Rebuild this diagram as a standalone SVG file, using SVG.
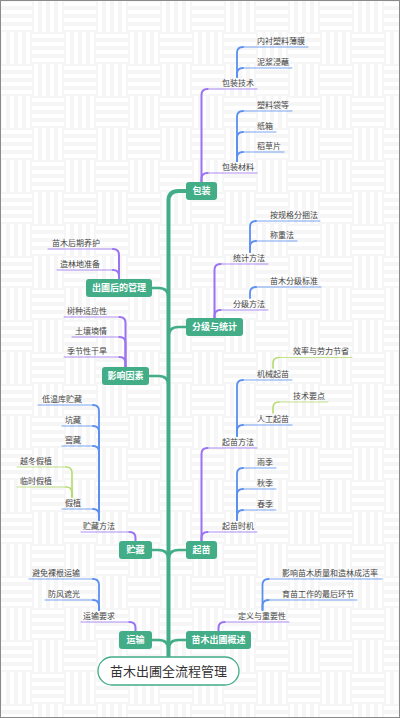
<svg xmlns="http://www.w3.org/2000/svg" width="400" height="718" viewBox="0 0 400 718">
<defs>
<pattern id="bg" width="64" height="64" patternUnits="userSpaceOnUse">
<rect width="64" height="64" fill="#f6f6f6"/>
<g fill="#ffffff">
<rect x="0" y="2" width="32" height="4"/><rect x="0" y="10" width="32" height="4"/><rect x="0" y="18" width="32" height="4"/><rect x="0" y="26" width="32" height="4"/>
<rect x="34" y="0" width="4" height="32"/><rect x="42" y="0" width="4" height="32"/><rect x="50" y="0" width="4" height="32"/><rect x="58" y="0" width="4" height="32"/>
<rect x="2" y="32" width="4" height="32"/><rect x="10" y="32" width="4" height="32"/><rect x="18" y="32" width="4" height="32"/><rect x="26" y="32" width="4" height="32"/>
<rect x="32" y="34" width="32" height="4"/><rect x="32" y="42" width="32" height="4"/><rect x="32" y="50" width="32" height="4"/><rect x="32" y="58" width="32" height="4"/>
</g>
</pattern>
<style>
path{fill:none;stroke-linecap:round}
.trunk{stroke:#42ad87;stroke-width:4}
.br{stroke:#42ad87;stroke-width:2.6}
.l2{stroke:#9a72f2;stroke-width:2}
.l3{stroke:#5b8ff0;stroke-width:1.8}
.l4{stroke:#b5dc6e;stroke-width:1.6}
.u{stroke-width:1;opacity:0.8}
.node rect{fill:#42ad87}
.node text{fill:#ffffff;font-family:"Noto Sans CJK SC","Noto Sans",sans-serif;font-size:9px;font-weight:bold;text-anchor:middle}
.lab{fill:#444444;font-family:"Noto Sans CJK SC","Noto Sans",sans-serif;font-size:8px}
.r{text-anchor:end}
</style>
</defs>
<rect width="400" height="718" fill="url(#bg)"/>
<rect x="0.5" y="0.5" width="399" height="717" fill="none" stroke="#8a8a8a" stroke-width="1"/>

<g id="connectors">
<path class="trunk" d="M168.5,657 V201 Q168.5,191 178.5,191 H186"/>
<path class="br" d="M186,327 H178.5 Q168.5,327 168.5,337"/>
<path class="br" d="M186,550 H178.5 Q168.5,550 168.5,560"/>
<path class="br" d="M186,640 H178.5 Q168.5,640 168.5,650"/>
<path class="br" d="M152,288 H158.5 Q168.5,288 168.5,298"/>
<path class="br" d="M149,376 H158.5 Q168.5,376 168.5,386"/>
<path class="br" d="M152,550 H158.5 Q168.5,550 168.5,560"/>
<path class="br" d="M152,640 H158.5 Q168.5,640 168.5,650"/>

<path class="l2" d="M201.5,182 V95 Q201.5,89 207.5,89"/><path class="l2 u" d="M207.5,89 H257"/>
<path class="l2" d="M201.5,182 V179 Q201.5,173 207.5,173"/><path class="l2 u" d="M207.5,173 H257"/>
<path class="l2" d="M214.5,318 V270 Q214.5,264 220.5,264"/><path class="l2 u" d="M220.5,264 H268"/>
<path class="l2" d="M214.5,318 V316 Q214.5,310 220.5,310"/><path class="l2 u" d="M220.5,310 H268"/>
<path class="l2" d="M201.5,541 V454 Q201.5,448 207.5,448"/><path class="l2 u" d="M207.5,448 H257"/>
<path class="l2" d="M201.5,541 V538 Q201.5,532 207.5,532"/><path class="l2 u" d="M207.5,532 H257"/>
<path class="l2" d="M218.5,631 V628 Q218.5,622 224.5,622"/><path class="l2 u" d="M224.5,622 H289"/>
<path class="l2" d="M119,279 V255 Q119,249 113,249"/><path class="l2 u" d="M113,249 H48"/>
<path class="l2" d="M119,279 V276 Q119,270 113,270"/><path class="l2 u" d="M113,270 H57"/>
<path class="l2" d="M125.5,367 V323 Q125.5,317 119.5,317"/><path class="l2 u" d="M119.5,317 H64"/>
<path class="l2" d="M125.5,367 V343 Q125.5,337 119.5,337"/><path class="l2 u" d="M119.5,337 H72"/>
<path class="l2" d="M125.5,367 V363 Q125.5,357 119.5,357"/><path class="l2 u" d="M119.5,357 H64"/>
<path class="l2" d="M135.5,541 V538 Q135.5,532 129.5,532"/><path class="l2 u" d="M129.5,532 H81"/>
<path class="l2" d="M135.5,631 V628 Q135.5,622 129.5,622"/><path class="l2 u" d="M129.5,622 H81"/>

<path class="l3" d="M237,77 V53 Q237,47 243,47"/><path class="l3 u" d="M243,47 H308"/>
<path class="l3" d="M237,77 V74 Q237,68 243,68"/><path class="l3 u" d="M243,68 H292"/>
<path class="l3" d="M237,161 V117 Q237,111 243,111"/><path class="l3 u" d="M243,111 H292"/>
<path class="l3" d="M237,161 V138 Q237,132 243,132"/><path class="l3 u" d="M243,132 H276"/>
<path class="l3" d="M237,161 V158 Q237,152 243,152"/><path class="l3 u" d="M243,152 H284"/>
<path class="l3" d="M250,252 V227 Q250,221 256,221"/><path class="l3 u" d="M256,221 H320"/>
<path class="l3" d="M250,252 V247 Q250,241 256,241"/><path class="l3 u" d="M256,241 H297"/>
<path class="l3" d="M250,298 V293 Q250,287 256,287"/><path class="l3 u" d="M256,287 H321"/>
<path class="l3" d="M237,436 V386 Q237,380 243,380"/><path class="l3 u" d="M243,380 H292"/>
<path class="l3" d="M237,436 V431 Q237,425 243,425"/><path class="l3 u" d="M243,425 H292"/>
<path class="l3" d="M237,520 V474 Q237,468 243,468"/><path class="l3 u" d="M243,468 H276"/>
<path class="l3" d="M237,520 V495 Q237,489 243,489"/><path class="l3 u" d="M243,489 H276"/>
<path class="l3" d="M237,520 V516 Q237,510 243,510"/><path class="l3 u" d="M243,510 H276"/>
<path class="l3" d="M262.5,610 V585 Q262.5,579 268.5,579"/><path class="l3 u" d="M268.5,579 H382"/>
<path class="l3" d="M262.5,610 V606 Q262.5,600 268.5,600"/><path class="l3 u" d="M268.5,600 H357"/>
<path class="l3" d="M99,520 V411 Q99,405 93,405"/><path class="l3 u" d="M93,405 H38"/>
<path class="l3" d="M99,520 V432 Q99,426 93,426"/><path class="l3 u" d="M93,426 H62"/>
<path class="l3" d="M99,520 V452 Q99,446 93,446"/><path class="l3 u" d="M93,446 H62"/>
<path class="l3" d="M99,520 V515 Q99,509 93,509"/><path class="l3 u" d="M93,509 H62"/>
<path class="l3" d="M99,610 V585 Q99,579 93,579"/><path class="l3 u" d="M93,579 H29"/>
<path class="l3" d="M99,610 V606 Q99,600 93,600"/><path class="l3 u" d="M93,600 H45"/>

<path class="l4" d="M273,368 V363.5 Q273,357.5 279,357.5"/><path class="l4 u" d="M279,357.5 H352"/>
<path class="l4" d="M273,413 V408 Q273,402 279,402"/><path class="l4 u" d="M279,402 H328"/>
<path class="l4" d="M72,497 V473 Q72,467 66,467"/><path class="l4 u" d="M66,467 H17"/>
<path class="l4" d="M72,497 V493 Q72,487 66,487"/><path class="l4 u" d="M66,487 H17"/>
</g>

<g id="root"><rect x="98" y="657" width="141" height="28" rx="14" fill="#ffffff" stroke="#42ad87" stroke-width="1.3"/><text x="168.5" y="675.8" font-family="'Noto Sans CJK SC','Noto Sans',sans-serif" font-size="13" fill="#333333" text-anchor="middle">苗木出圃全流程管理</text></g>

<g id="n-baozhuang" class="node"><rect x="186" y="182" width="31" height="18" rx="3"/><text x="201.5" y="194.2">包装</text></g>
<g id="n-fenji" class="node"><rect x="186" y="318" width="57" height="18" rx="3"/><text x="214.5" y="330.2">分级与统计</text></g>
<g id="n-qimiao" class="node"><rect x="186" y="541" width="31" height="18" rx="3"/><text x="201.5" y="553.2">起苗</text></g>
<g id="n-gaishu" class="node"><rect x="186" y="631" width="65" height="18" rx="3"/><text x="218.5" y="643.2">苗木出圃概述</text></g>
<g id="n-guanli" class="node"><rect x="86" y="279" width="66" height="18" rx="3"/><text x="119" y="291.2">出圃后的管理</text></g>
<g id="n-yinsu" class="node"><rect x="102" y="367" width="47" height="18" rx="3"/><text x="125.5" y="379.2">影响因素</text></g>
<g id="n-zhucang" class="node"><rect x="119" y="541" width="33" height="18" rx="3"/><text x="135.5" y="553.2">贮藏</text></g>
<g id="n-yunshu" class="node"><rect x="119" y="631" width="33" height="18" rx="3"/><text x="135.5" y="643.2">运输</text></g>

<g id="t-bzjs"><text class="lab" x="222" y="85.5">包装技术</text></g>
<g id="t-bzcl"><text class="lab" x="222" y="169.5">包装材料</text></g>
<g id="t-nczl"><text class="lab" x="257" y="43.5">内衬塑料薄膜</text></g>
<g id="t-njjz"><text class="lab" x="257" y="64.5">泥浆浸蘸</text></g>
<g id="t-slds"><text class="lab" x="257" y="107.5">塑料袋等</text></g>
<g id="t-zx"><text class="lab" x="257" y="128.5">纸箱</text></g>
<g id="t-dcp"><text class="lab" x="257" y="148.5">稻草片</text></g>
<g id="t-tjff"><text class="lab" x="233" y="260.5">统计方法</text></g>
<g id="t-fjff"><text class="lab" x="233" y="306.5">分级方法</text></g>
<g id="t-agg"><text class="lab" x="270" y="217.5">按规格分捆法</text></g>
<g id="t-czf"><text class="lab" x="270" y="237.5">称重法</text></g>
<g id="t-fjbz"><text class="lab" x="270" y="283.5">苗木分级标准</text></g>
<g id="t-qmff"><text class="lab" x="222" y="444.5">起苗方法</text></g>
<g id="t-qmsj"><text class="lab" x="222" y="528.5">起苗时机</text></g>
<g id="t-jxqm"><text class="lab" x="257" y="376.5">机械起苗</text></g>
<g id="t-rgqm"><text class="lab" x="257" y="421.5">人工起苗</text></g>
<g id="t-xl"><text class="lab" x="293" y="354">效率与劳力节省</text></g>
<g id="t-jsyd"><text class="lab" x="293" y="398.5">技术要点</text></g>
<g id="t-yj"><text class="lab" x="257" y="464.5">雨季</text></g>
<g id="t-qj"><text class="lab" x="257" y="485.5">秋季</text></g>
<g id="t-cj"><text class="lab" x="257" y="506.5">春季</text></g>
<g id="t-dy"><text class="lab" x="238" y="618.5">定义与重要性</text></g>
<g id="t-yx"><text class="lab" x="282" y="575.5">影响苗木质量和造林成活率</text></g>
<g id="t-ym"><text class="lab" x="282" y="596.5">育苗工作的最后环节</text></g>
<g id="t-hqyh"><text class="lab r" x="100" y="245.5">苗木后期养护</text></g>
<g id="t-zld"><text class="lab r" x="100" y="266.5">造林地准备</text></g>
<g id="t-szsy"><text class="lab r" x="107" y="313.5">树种适应性</text></g>
<g id="t-trsq"><text class="lab r" x="107" y="333.5">土壤墒情</text></g>
<g id="t-jjx"><text class="lab r" x="107" y="353.5">季节性干旱</text></g>
<g id="t-zcff"><text class="lab r" x="115" y="528.5">贮藏方法</text></g>
<g id="t-dwk"><text class="lab r" x="82" y="401.5">低温库贮藏</text></g>
<g id="t-kc"><text class="lab r" x="81" y="422.5">坑藏</text></g>
<g id="t-jc"><text class="lab r" x="81" y="442.5">窖藏</text></g>
<g id="t-jz"><text class="lab r" x="81" y="505.5">假植</text></g>
<g id="t-ydjz"><text class="lab r" x="52" y="463.5">越冬假植</text></g>
<g id="t-lsjz"><text class="lab r" x="52" y="483.5">临时假植</text></g>
<g id="t-ysyq"><text class="lab r" x="115" y="618.5">运输要求</text></g>
<g id="t-bmlg"><text class="lab r" x="80" y="575.5">避免裸根运输</text></g>
<g id="t-ffzg"><text class="lab r" x="80" y="596.5">防风遮光</text></g>
</svg>
